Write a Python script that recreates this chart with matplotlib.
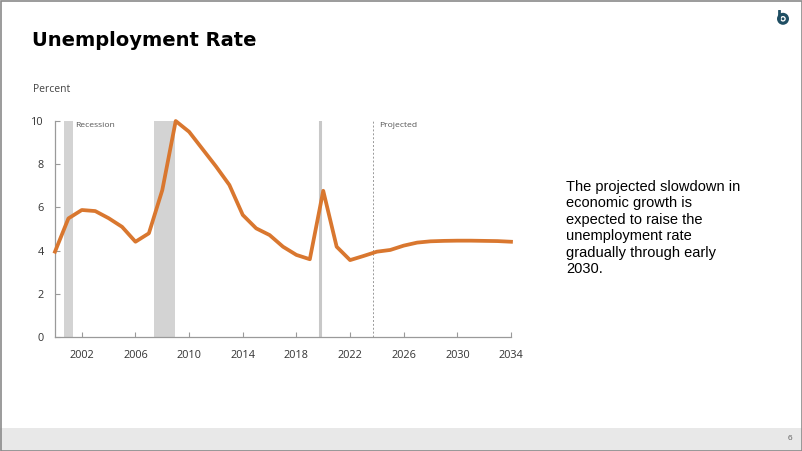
import matplotlib
matplotlib.use("Agg")
import matplotlib.pyplot as plt
from matplotlib.patches import Rectangle, Circle

years = list(range(2000, 2035))
rate = [3.95, 5.49, 5.88, 5.83, 5.5, 5.1, 4.41, 4.8, 6.8, 10.0,
        9.5, 8.7, 7.9, 7.04, 5.65, 5.03, 4.72, 4.18, 3.8, 3.6,
        6.77, 4.18, 3.56, 3.75, 3.95, 4.03, 4.23, 4.37, 4.43, 4.45,
        4.46, 4.46, 4.45, 4.44, 4.41]
recessions = [(2000.67, 2001.32), (2007.4, 2008.92)]
covid_line = 2019.74
projected_start = 2023.72
xticks = [2002, 2006, 2010, 2014, 2018, 2022, 2026, 2030, 2034]
yticks = [0, 2, 4, 6, 8, 10]

W, H = 802, 451
fig = plt.figure(figsize=(W / 100, H / 100), dpi=100)
fig.patch.set_facecolor("white")

# slide frame & footer
fig.add_artist(Rectangle((0, 0), 1, 23 / H, transform=fig.transFigure,
                         facecolor="#e8e8e8", edgecolor="none", zorder=0))
fig.add_artist(Rectangle((0.5 / W, 0.5 / H), 1 - 1 / W, 1 - 1 / H, transform=fig.transFigure,
                         facecolor="none", edgecolor="#8a8a8a", lw=1.2, zorder=5))
fig.text(790 / W, 1 - 439 / H, "6", fontsize=6, color="#666666",
         ha="center", va="center", family="Liberation Sans")

# logo
ax_logo = fig.add_axes([775 / W, 1 - 26 / H, 16 / W, 16 / H])
ax_logo.set_xlim(-1, 1); ax_logo.set_ylim(-1, 1); ax_logo.set_aspect("equal"); ax_logo.axis("off")
ax_logo.add_patch(Circle((0, -0.1), 0.75, facecolor="#1f4e63", edgecolor="none"))
ax_logo.add_patch(Circle((0, -0.1), 0.35, facecolor="white", edgecolor="none"))
ax_logo.add_patch(Circle((0, -0.1), 0.18, facecolor="#1f4e63", edgecolor="none"))
ax_logo.plot([-0.55, -0.55], [-0.1, 0.95], color="#1f4e63", lw=2.0, solid_capstyle="round")

# title
fig.text(32 / W, 1 - 41 / H, "Unemployment Rate", fontsize=14, fontweight="heavy",
         family="DejaVu Sans", color="black", ha="left", va="center")
fig.text(33 / W, 1 - 90 / H, "Percent", fontsize=7.5, color="#444444",
         family="Open Sans", ha="left", va="center")

# commentary
fig.text(566 / W, 1 - 180 / H,
         "The projected slowdown in\neconomic growth is\nexpected to raise the\nunemployment rate\ngradually through early\n2030.",
         fontsize=10.5, family="Liberation Sans", color="black", ha="left", va="top",
         linespacing=1.22)

ax = fig.add_axes([55 / W, 1 - 337 / H, (511 - 55) / W, (337 - 121) / H])
ax.set_xlim(2000, 2034)
ax.set_ylim(0, 10)
for a, b in recessions:
    ax.axvspan(a, b, color="#d3d3d3", lw=0, zorder=1)
ax.axvline(covid_line, color="#c8c8c8", lw=2.2, zorder=1)
ax.axvline(projected_start, color="#999999", lw=0.7, ls=(0, (2, 2)), zorder=1)
ax.plot(years, rate, color="#d9772f", lw=2.7, zorder=3, clip_on=False,
        solid_joinstyle="round")

ax.text(2001.5, 9.95, "Recession", fontsize=6.1, color="#555555", family="Open Sans",
        ha="left", va="top")
ax.text(2024.2, 9.95, "Projected", fontsize=6.1, color="#555555", family="Open Sans",
        ha="left", va="top")

for s in ["top", "right"]:
    ax.spines[s].set_visible(False)
for s in ["left", "bottom"]:
    ax.spines[s].set_color("#9a9a9a")
    ax.spines[s].set_linewidth(0.9)
ax.set_xticks(xticks)
ax.set_yticks(yticks)
ax.tick_params(axis="both", direction="in", length=3.5, width=0.8, color="#9a9a9a",
               labelsize=7.8, labelcolor="#333333")
ax.tick_params(axis="x", pad=9)
ax.tick_params(axis="y", pad=8)
for lab in ax.get_xticklabels() + ax.get_yticklabels():
    lab.set_family("Open Sans")
ax.set_facecolor("none")

fig.savefig("out.png", dpi=100, facecolor="white")
